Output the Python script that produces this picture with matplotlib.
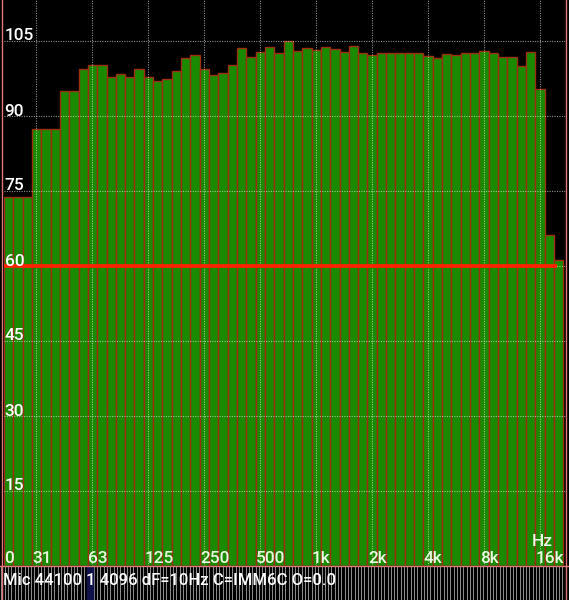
import numpy as np
import matplotlib
matplotlib.use('Agg')
import matplotlib.pyplot as plt
from matplotlib.patches import Rectangle

# ---- data (1/6-octave band levels, dB) ----
band_levels_db = [73.7, 73.7, 73.7, 87.3, 87.3, 87.3, 95.0, 95.0, 99.3, 100.1,
                  100.1, 97.8, 98.3, 97.8, 99.3, 97.7, 96.9, 97.3, 98.9, 101.6,
                  102.1, 99.3, 98.1, 98.5, 100.1, 103.6, 101.7, 102.8, 103.7, 102.6,
                  105.0, 103.0, 103.6, 103.1, 103.7, 103.3, 102.8, 103.9, 102.5, 102.1,
                  102.6, 102.5, 102.6, 102.6, 102.5, 101.9, 101.5, 102.3, 102.1, 102.5,
                  102.5, 103.0, 102.6, 101.8, 101.7, 100.0, 102.7, 95.4, 66.1, 61.1]
x_tick_freqs = [31.25, 62.5, 125, 250, 500, 1000, 2000, 4000, 8000, 16000]
x_tick_labels = ['31', '63', '125', '250', '500', '1k', '2k', '4k', '8k', '16k']
y_ticks = [105, 90, 75, 60, 45, 30, 15]
ref_level_db = 60
status_text = 'Mic 44100 1 4096 dF=10Hz C=IMM6C O=0.0'

# ---- layout ----
W, H = 569, 600
PX_OCT = 55.92
F0 = 20.92
FONT = 'Roboto'
FS = 12.4

fig = plt.figure(figsize=(W / 100, H / 100), dpi=100, facecolor='black')
ax = fig.add_axes([3.5 / W, (H - 565.5) / H, (566 - 3.5) / W, 565.5 / H])
ax.set_facecolor('black')
ax.set_xscale('log')
x0 = F0 * 2 ** (-0.5 / PX_OCT)
x1 = F0 * 2 ** (562 / PX_OCT)
ax.set_xlim(x0, x1)
ax.set_ylim(0, 565.5 / 5)
ax.axis('off')

n = len(band_levels_db)
edges = F0 * 2 ** (np.arange(n + 1) / 6)
ax.bar(edges[:-1], band_levels_db, width=np.diff(edges), align='edge',
       color='#1a8a00', edgecolor='#9a3010', linewidth=1.0, zorder=2)

grid_kw = dict(color='white', alpha=0.55, lw=0.8, ls=(0, (1, 1.2)), zorder=3)
for y in y_ticks:
    ax.axhline(y, **grid_kw)
for f in x_tick_freqs:
    ax.axvline(f, **grid_kw)

ax.hlines(ref_level_db, x0, edges[-2] * 2 ** (3 / PX_OCT), color='#ff2200',
          lw=2.7, zorder=4)

txt_kw = dict(textcoords='offset pixels', va='baseline', ha='left',
              fontsize=FS, family=FONT, fontweight='medium', zorder=6)
for v in y_ticks:
    ax.annotate(str(v), xy=(x0, v), xytext=(1, 0), color='white', **txt_kw)
ax.annotate('0', xy=(x0, 0), xytext=(1, 2.5), color='#e8f8e0', **txt_kw)
for f, lab in zip(x_tick_freqs, x_tick_labels):
    ax.annotate(lab, xy=(f, 0), xytext=(-4, 2.5), color='#e8f8e0', **txt_kw)
ax.annotate('Hz', xy=(x_tick_freqs[-1], 0), xytext=(-8, 19.5), color='#e8f8e0', **txt_kw)

# ---- overlay: frame and status strip ----
ov = fig.add_axes([0, 0, 1, 1], zorder=5)
ov.set_xlim(0, W)
ov.set_ylim(H, 0)
ov.axis('off')
ov.patch.set_visible(False)
ov.add_patch(Rectangle((0, 566), W, 34, color='black', zorder=1))
ov.vlines(np.arange(1.5, W, 3.3), 566, 600, color='#8a8a8a', lw=0.72, zorder=2)
ov.add_patch(Rectangle((87, 566), 6, 34, color='#10104a', zorder=3))
pink = '#e07878'
ov.plot([2.5, 2.5], [0, 600], color=pink, lw=1.0, zorder=4)
ov.plot([566.5, 566.5], [0, 600], color=pink, lw=1.0, zorder=4)
ov.plot([0, W], [565.5, 565.5], color=pink, lw=1.0, zorder=4)
ov.text(3.5, 585, status_text, color='white', fontsize=12.0, family=FONT,
        fontweight='medium', va='baseline', ha='left', zorder=5)

fig.savefig('out.png', dpi=100, facecolor='black')
